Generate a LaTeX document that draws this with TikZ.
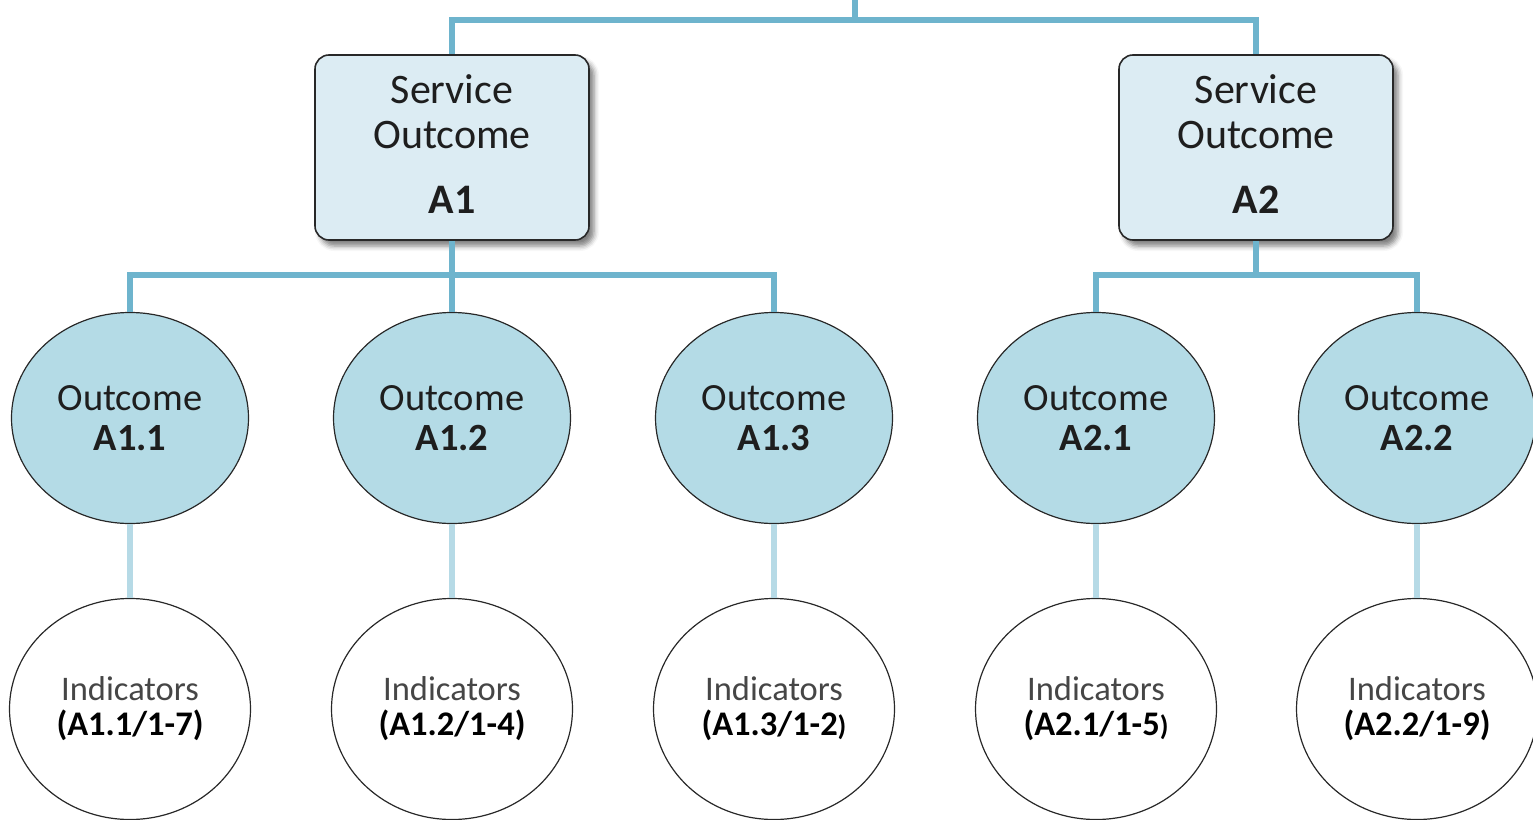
\documentclass[tikz,border=0pt]{standalone}
\usepackage{fontspec}
\setmainfont{Carlito}
\usetikzlibrary{shapes.geometric,shadows.blur}
\definecolor{linkc}{RGB}{110,180,205}
\definecolor{linkl}{RGB}{182,218,230}
\definecolor{boxfill}{RGB}{220,236,243}
\definecolor{ellfill}{RGB}{180,219,230}
\definecolor{edgec}{RGB}{40,40,40}
\definecolor{txtc}{RGB}{30,30,30}
\definecolor{indtxt}{RGB}{70,70,70}
\begin{document}
\begin{tikzpicture}[x=1pt,y=-1pt,
  svc/.style={draw=edgec, line width=1.6pt, fill=boxfill, rounded corners=14pt,
    minimum width=274pt, minimum height=185pt, inner sep=0pt, align=center,
    text=txtc, font=\fontsize{42}{45}\selectfont,
    blur shadow={shadow xshift=5pt, shadow yshift=-6pt, shadow blur radius=5pt, shadow opacity=50}},
  outc/.style={ellipse, draw=edgec, line width=1.2pt, fill=ellfill,
    minimum width=237pt, minimum height=211pt, inner sep=0pt, align=center,
    text=txtc, font=\fontsize{38.5}{40}\selectfont},
  ind/.style={ellipse, draw=edgec, line width=1.2pt, fill=white,
    minimum width=241pt, minimum height=221pt, inner sep=0pt, align=center,
    text=indtxt, font=\fontsize{34.5}{35}\selectfont},
  link/.style={draw=linkc, line width=6pt},
  linkb/.style={draw=linkl, line width=6pt}]
\useasboundingbox (0,0) rectangle (1533,819);

% service outcome boxes
\node[svc] (A1) at (452,147.5) {Service\\Outcome\\[20pt]\textbf{A1}\rule[-7pt]{0pt}{0pt}};
\node[svc] (A2) at (1256,147.5) {Service\\Outcome\\[20pt]\textbf{A2}\rule[-7pt]{0pt}{0pt}};

% outcomes
\node[outc] (o11) at (130,418) {Outcome\\\textbf{A1.1}};
\node[outc] (o12) at (452,418) {Outcome\\\textbf{A1.2}};
\node[outc] (o13) at (774,418) {Outcome\\\textbf{A1.3}};
\node[outc] (o21) at (1096,418) {Outcome\\\textbf{A2.1}};
\node[outc] (o22) at (1417,418) {Outcome\\\textbf{A2.2}};

% indicators
\node[ind] (i11) at (130,709) {Indicators\\\textcolor{black}{\textbf{(A1.1/1-7)}}};
\node[ind] (i12) at (452,709) {Indicators\\\textcolor{black}{\textbf{(A1.2/1-4)}}};
\node[ind] (i13) at (774,709) {Indicators\\\textcolor{black}{\textbf{(A1.3/1-2}{\fontsize{28}{30}\selectfont\textbf{)}}}};
\node[ind] (i21) at (1096,709) {Indicators\\\textcolor{black}{\textbf{(A2.1/1-5}{\fontsize{28}{30}\selectfont\textbf{)}}}};
\node[ind] (i22) at (1417,709) {Indicators\\\textcolor{black}{\textbf{(A2.2/1-9)}}};

% top bus
\coordinate (top) at (855,0);
\coordinate (bus) at (855,20);
\draw[link] (top) -- (bus);
\draw[link] (A1.north) |- (bus) -| (A2.north);

% A1 bus
\coordinate (b1) at (452,275);
\draw[link] (A1.south) -- (o12.north);
\draw[link] (o11.north) |- (b1) -| (o13.north);

% A2 bus
\coordinate (b2) at (1256,275);
\draw[link] (A2.south) -- (b2);
\draw[link] (o21.north) |- (b2) -| (o22.north);

% outcome to indicators
\draw[linkb] (o11.south) -- (i11.north);
\draw[linkb] (o12.south) -- (i12.north);
\draw[linkb] (o13.south) -- (i13.north);
\draw[linkb] (o21.south) -- (i21.north);
\draw[linkb] (o22.south) -- (i22.north);
\end{tikzpicture}
\end{document}
